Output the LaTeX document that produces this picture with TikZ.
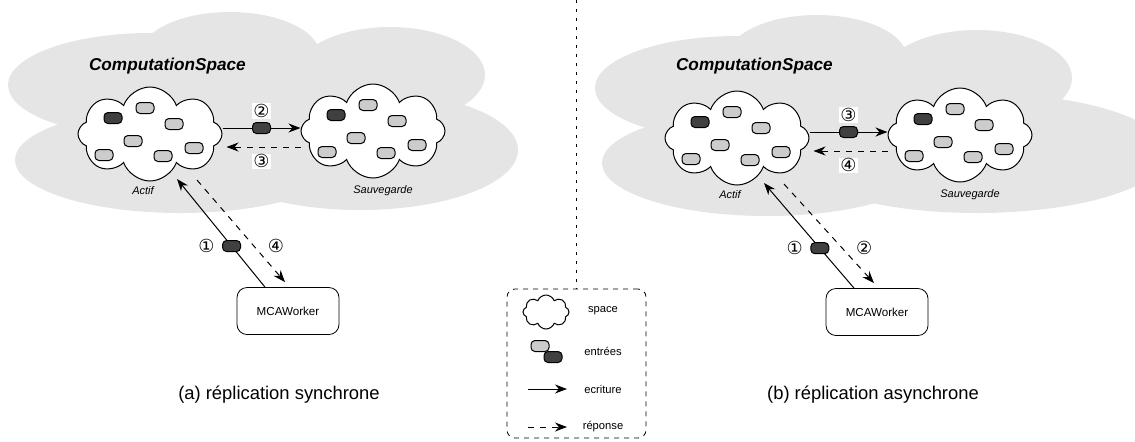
\documentclass[tikz,border=0pt]{standalone}
\usepackage{fontspec}
\setmainfont{Liberation Sans}
\newfontfamily\circfont{DejaVu Sans}
\usetikzlibrary{shapes.symbols,arrows.meta,positioning}

\tikzset{
  space/.style={cloud, cloud puffs=8, cloud puff arc=140, aspect=1.5, draw, line width=0.5pt,
    fill=white, minimum width=72pt, minimum height=47pt},
  bgfill/.style={fill=gray!20},
  entry/.style={draw, rounded corners=2pt, fill=gray!40, line width=0.5pt,
    minimum width=9pt, minimum height=5.5pt, inner sep=0pt},
  darkentry/.style={entry, fill=black!75},
  num/.style={font=\circfont\fontsize{9}{9}\selectfont, fill=white, inner sep=0.6pt},
  lbl/.style={font=\fontsize{5.5}{6}\selectfont\itshape},
  legtxt/.style={font=\fontsize{5.6}{6}\selectfont},
  worker/.style={draw, rounded corners=5pt, minimum width=51pt, minimum height=23.5pt,
    font=\fontsize{5.8}{6}\selectfont},
  wr/.style={-{Stealth[length=6pt,width=4.5pt]}, line width=0.5pt},
  rep/.style={wr, dashed},
}

\begin{document}
\begin{tikzpicture}[x=0.5pt,y=-0.5pt]
\useasboundingbox (0,0) rectangle (1135,441);
\clip (0,0) rectangle (1135,441);

% fonds
\begin{scope}
\fill[bgfill] (150,85) ellipse [x radius=142, y radius=52];
\fill[bgfill] (230,55) ellipse [x radius=90, y radius=43];
\fill[bgfill] (390,75) ellipse [x radius=95, y radius=48];
\fill[bgfill] (300,100) ellipse [x radius=70, y radius=35];
\fill[bgfill] (360,150) ellipse [x radius=158, y radius=60];
\fill[bgfill] (180,160) ellipse [x radius=165, y radius=53];
\end{scope}
\begin{scope}[shift={(587,3)}]
\fill[bgfill] (150,85) ellipse [x radius=142, y radius=52];
\fill[bgfill] (230,55) ellipse [x radius=90, y radius=43];
\fill[bgfill] (390,75) ellipse [x radius=95, y radius=48];
\fill[bgfill] (300,100) ellipse [x radius=70, y radius=35];
\fill[bgfill] (390,150) ellipse [x radius=190, y radius=60];
\fill[bgfill] (180,160) ellipse [x radius=165, y radius=53];
\end{scope}

% (a)
\node[right, font=\fontsize{8.6}{9}\selectfont\bfseries\itshape] (csa) at (82,66) {ComputationSpace};
\node[space] (acta) at (150,134) {};
\node[space] (sava) at (373,131) {};
\node[lbl] (la1) at (143,191) {Actif};
\node[lbl] (la2) at (383,191) {Sauvegarde};

% (b)
\node[right, font=\fontsize{8.6}{9}\selectfont\bfseries\itshape] (csb) at (669,66) {ComputationSpace};
\node[space] (actb) at (737,138) {};
\node[space] (savb) at (960,135) {};
\node[lbl] (lb1) at (730,195) {Actif};
\node[lbl] (lb2) at (970,195) {Sauvegarde};

\foreach \c in {acta,sava,actb,savb} {
  \node[darkentry] (\c0) at ([shift={(-37,-16)}]\c) {};
  \foreach \dx/\dy in {-5/-26,24/-10,-17/7,-46/21,13/22,44/14}
    \node[entry] (\c\dx) at ([shift={(\dx,\dy)}]\c) {};
}

\draw[wr] ([yshift=3pt]acta.east) -- node[darkentry] (ma) {} node[num, above=4.5pt] (n2a) {②} ([yshift=1.5pt]sava.west);
\draw[rep, shorten >=2pt] ([yshift=-8pt]sava.west) -- node[num, below=3pt] (n3a) {③} ([yshift=-6.5pt]acta.east);

\draw[wr] ([yshift=3pt]actb.east) -- node[darkentry] (mc) {} node[num, above=4.5pt] (n3b) {③} ([yshift=1.5pt]savb.west);
\draw[rep, shorten >=2pt] ([yshift=-8pt]savb.west) -- node[num, below=3pt] (n4b) {④} ([yshift=-6.5pt]actb.east);

\node[worker] (mcaa) at (288,311) {MCAWorker};
\node[worker] (mcab) at (877,312) {MCAWorker};

\draw[wr] ([xshift=-11.5pt]mcaa.north) -- node[pos=0.38, darkentry] (mb) {} ([shift={(27,45)}]acta.center);
\node[num, left=3pt of mb] (n1a) {①};
\draw[rep] ([shift={(47,46)}]acta.center) -- node[pos=0.65, num, right=6pt] (n4a) {④} ([xshift=-1.5pt,yshift=2.5pt]mcaa.north);

\draw[wr] ([xshift=-11.5pt]mcab.north) -- node[pos=0.38, darkentry] (md) {} ([shift={(27,45)}]actb.center);
\node[num, left=3pt of md] (n1b) {①};
\draw[rep] ([shift={(47,46)}]actb.center) -- node[pos=0.65, num, right=6pt] (n2b) {②} ([xshift=-1.5pt,yshift=2.5pt]mcab.north);

\node[font=\fontsize{9.2}{10}\selectfont] (capa) at (279,395) {(a) réplication synchrone};
\node[font=\fontsize{9.2}{10}\selectfont] (capb) at (873,395) {(b) réplication asynchrone};

% legende
\node[draw, dash pattern=on 2.5pt off 2.5pt, rounded corners=4pt, minimum width=69.5pt,
  minimum height=74.5pt] (leg) at (576.5,363.5) {};
\coordinate (top) at (576.5,0);
\draw[dash pattern=on 1.5pt off 3pt] (top) -- (leg.north);

\node[space, minimum width=23pt, minimum height=17pt] (lsp) at (546,312) {};
\node[legtxt] (tsp) at (603,311) {space};
\node[entry] (le1) at (540,346) {};
\node[darkentry] (le2) at (553,357) {};
\node[legtxt] (ten) at (603,351) {entrées};
\coordinate (lw1) at (528,389);
\coordinate (lw2) at (567,389);
\draw[wr] (lw1) -- (lw2);
\node[legtxt] (twr) at (603,389) {ecriture};
\coordinate (lr1) at (528,427);
\coordinate (lr2) at (567,427);
\draw[rep] (lr1) -- (lr2);
\node[legtxt] (trp) at (603,427) {réponse};
\end{tikzpicture}
\end{document}
